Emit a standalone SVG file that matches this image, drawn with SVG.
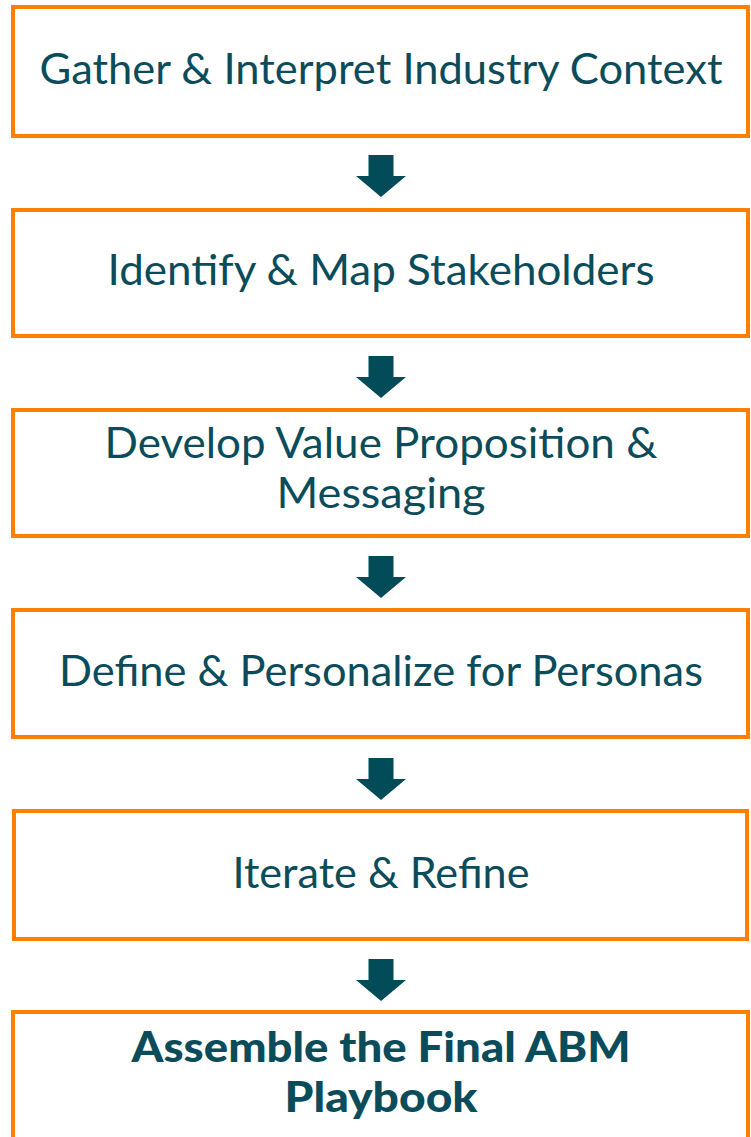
<svg xmlns="http://www.w3.org/2000/svg" width="751" height="1137" viewBox="0 0 751 1137">
  <style>
    .box { fill: #ffffff; stroke: #ff7f00; stroke-width: 4; }
    .label { font-family: Lato, "Noto Sans", "Liberation Sans", sans-serif; font-size: 42px; fill: #0b4c5b; text-anchor: middle; }
    .bold { font-weight: 900; }
    .arrow { fill: #024b59; }
  </style>
  <defs>
    <path id="down" d="M-12.5,0 H12.5 V21 H25 L0,42 L-25,21 H-12.5 Z"/>
  </defs>
  <rect width="751" height="1137" fill="#ffffff"/>

  <g id="connectors">
    <use href="#down" class="arrow" x="381" y="155"/>
    <use href="#down" class="arrow" x="381" y="356"/>
    <use href="#down" class="arrow" x="381" y="556"/>
    <use href="#down" class="arrow" x="381" y="758"/>
    <use href="#down" class="arrow" x="381" y="959"/>
  </g>

  <g id="step1">
    <rect class="box" x="13" y="7" width="735" height="129"/>
    <text class="label" x="381" y="84" textLength="683" lengthAdjust="spacingAndGlyphs">Gather &amp; Interpret Industry Context</text>
  </g>
  <g id="step2">
    <rect class="box" x="13" y="210" width="735" height="126"/>
    <text class="label" x="381" y="285" textLength="547" lengthAdjust="spacingAndGlyphs">Identify &amp; Map Stakeholders</text>
  </g>
  <g id="step3">
    <rect class="box" x="13" y="410" width="735" height="126"/>
    <text class="label" x="381" y="458" textLength="553" lengthAdjust="spacingAndGlyphs">Develop Value Proposition &amp;</text>
    <text class="label" x="381" y="508" textLength="209" lengthAdjust="spacingAndGlyphs">Messaging</text>
  </g>
  <g id="step4">
    <rect class="box" x="13" y="610" width="735" height="127"/>
    <text class="label" x="381" y="686" textLength="644" lengthAdjust="spacingAndGlyphs">Define &amp; Personalize for Personas</text>
  </g>
  <g id="step5">
    <rect class="box" x="14" y="811" width="733" height="128"/>
    <text class="label" x="381" y="888" textLength="297" lengthAdjust="spacingAndGlyphs">Iterate &amp; Refine</text>
  </g>
  <g id="step6">
    <rect class="box" x="13" y="1012" width="735" height="140"/>
    <text class="label bold" x="381" y="1062" textLength="499" lengthAdjust="spacingAndGlyphs">Assemble the Final ABM</text>
    <text class="label bold" x="381" y="1112" textLength="193" lengthAdjust="spacingAndGlyphs">Playbook</text>
  </g>
</svg>
